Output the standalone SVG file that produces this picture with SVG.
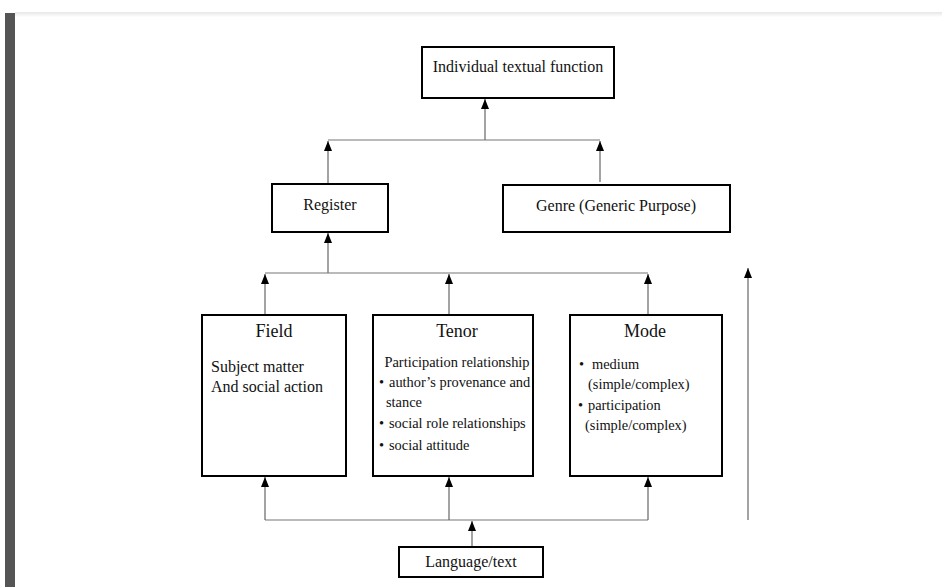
<svg xmlns="http://www.w3.org/2000/svg" width="942" height="587" viewBox="0 0 942 587">
<defs>
<marker id="ah" markerWidth="10" markerHeight="8" refX="10" refY="4" orient="auto" markerUnits="userSpaceOnUse" viewBox="0 0 10 8">
<path d="M0,0 L10,4 L0,8 Z" fill="#000"/>
</marker>
<linearGradient id="sh" x1="0" y1="0" x2="0" y2="1">
<stop offset="0" stop-color="#e6e6e6"/>
<stop offset="1" stop-color="#ffffff"/>
</linearGradient>
<style>
.box{fill:#fff;stroke:#000;stroke-width:2}
.ln{fill:none;stroke:#777;stroke-width:1.2}
.ar{fill:none;stroke:#666;stroke-width:1.2;marker-end:url(#ah)}
.t{font-size:16px}
.h{font-size:18px}
.s{font-size:14.4px}
</style>
</defs>
<rect x="0" y="0" width="942" height="587" fill="#fff"/>
<rect x="15" y="12" width="927" height="5" fill="url(#sh)"/>
<rect x="5" y="13" width="10" height="574" fill="#555"/>

<g id="connectors">
<line class="ar" x1="485" y1="140" x2="485" y2="99"/>
<line class="ln" x1="328" y1="140" x2="600" y2="140"/>
<line class="ar" x1="328" y1="184" x2="328" y2="141"/>
<line class="ar" x1="600" y1="182" x2="600" y2="141"/>
<line class="ar" x1="328" y1="273" x2="328" y2="233"/>
<line class="ln" x1="265" y1="273" x2="648" y2="273"/>
<line class="ar" x1="265" y1="315" x2="265" y2="274"/>
<line class="ar" x1="449" y1="315" x2="449" y2="274"/>
<line class="ar" x1="648" y1="315" x2="648" y2="274"/>
<line class="ln" x1="265" y1="520" x2="648" y2="520"/>
<line class="ar" x1="265" y1="520" x2="265" y2="477"/>
<line class="ar" x1="449" y1="520" x2="449" y2="477"/>
<line class="ar" x1="648" y1="520" x2="648" y2="477"/>
<line class="ar" x1="472" y1="547" x2="472" y2="521"/>
<line class="ar" x1="748" y1="520" x2="748" y2="268"/>
</g>

<g font-family="'Liberation Serif', 'Times New Roman', 'DejaVu Serif', serif" fill="#111">
<g id="individual">
<rect class="box" x="422" y="47" width="192" height="51"/>
<text class="t" x="518" y="72" text-anchor="middle">Individual textual function</text>
</g>
<g id="register">
<rect class="box" x="272" y="184" width="116" height="48"/>
<text class="t" x="330" y="210" text-anchor="middle">Register</text>
</g>
<g id="genre">
<rect class="box" x="503" y="185" width="227" height="47"/>
<text class="t" x="616" y="211" text-anchor="middle">Genre (Generic Purpose)</text>
</g>
<g id="field">
<rect class="box" x="202" y="315" width="144" height="161"/>
<text class="h" x="274" y="337" text-anchor="middle">Field</text>
<text class="t" x="211" y="372">Subject matter</text>
<text class="t" x="211" y="392">And social action</text>
</g>
<g id="tenor">
<rect class="box" x="373" y="315" width="160" height="161"/>
<text class="h" x="457" y="337" text-anchor="middle">Tenor</text>
<text class="s" x="457" y="367" text-anchor="middle">Participation relationship</text>
<text class="s" x="379" y="387">•</text>
<text class="s" x="389" y="387">author’s provenance and</text>
<text class="s" x="386" y="407">stance</text>
<text class="s" x="379" y="428">•</text>
<text class="s" x="389" y="428">social role relationships</text>
<text class="s" x="379" y="450">•</text>
<text class="s" x="389" y="450">social attitude</text>
</g>
<g id="mode">
<rect class="box" x="570" y="315" width="152" height="161"/>
<text class="h" x="645" y="337" text-anchor="middle">Mode</text>
<text class="s" x="579" y="369">•</text>
<text class="s" x="592" y="369">medium</text>
<text class="s" x="588" y="389">(simple/complex)</text>
<text class="s" x="578" y="410">•</text>
<text class="s" x="588" y="410">participation</text>
<text class="s" x="585" y="430">(simple/complex)</text>
</g>
<g id="language">
<rect class="box" x="399" y="547" width="144" height="30"/>
<text class="t" x="471" y="567" text-anchor="middle">Language/text</text>
</g>
</g>
</svg>
